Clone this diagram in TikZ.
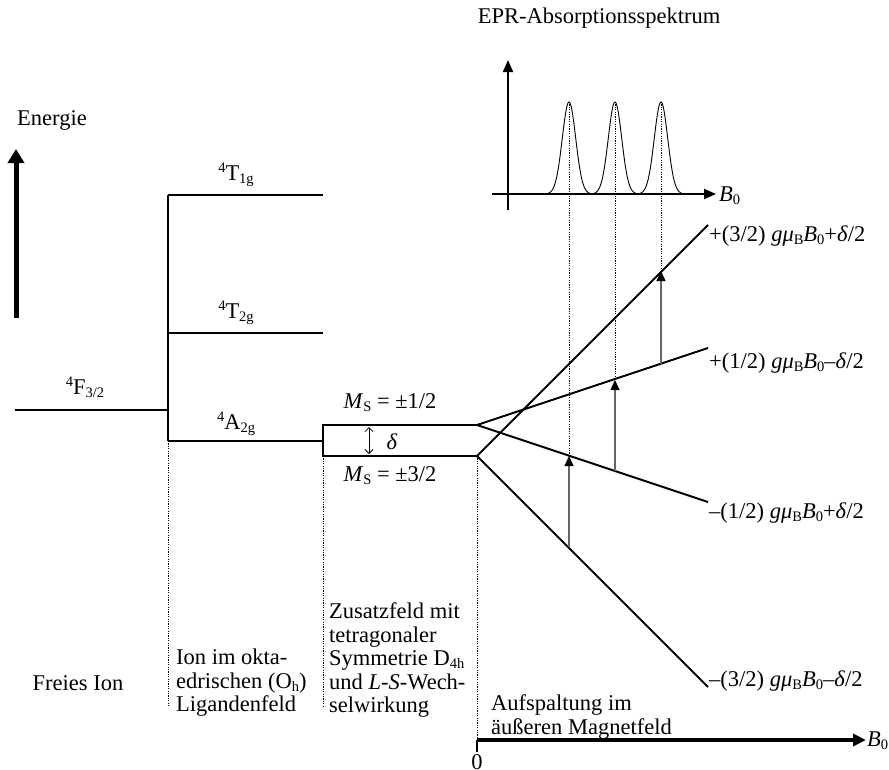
\documentclass[tikz,border=0pt]{standalone}
\usepackage{fontspec}
\setmainfont{Liberation Serif}
\usetikzlibrary{arrows.meta}
\newcommand\lsub[1]{\raisebox{-0.3ex}{\fontsize{14.5}{14.5}\selectfont #1}}
\newcommand\lsup[1]{\raisebox{0.8ex}{\fontsize{14.5}{14.5}\selectfont #1}}
\tikzset{
  level/.style={line width=2pt},
  vconn/.style={line width=1.2pt},
  fan/.style={line width=2pt},
  dotline/.style={line width=0.9pt, dash pattern=on 1.2pt off 1.2pt},
  trans/.style={line width=1.3pt, draw=black!60, -{Triangle[length=10pt,width=9pt,color=black]}},
  axis/.style={line width=2pt, -{Triangle[length=12pt,width=10pt]}},
  bigarrow/.style={line width=5pt, -{Triangle[length=14pt,width=16pt]}},
  peak/.style={line width=0.9pt},
  lbl/.style={inner sep=0pt},
  block/.style={inner sep=0pt, align=left}
}
\begin{document}
\begin{tikzpicture}[x=1pt,y=-1pt,font=\fontsize{22.5}{23.5}\selectfont]
\useasboundingbox (0,0) rectangle (889,769);

% Energy axis
\node[lbl] (energie) at (52,120) {Energie};
\coordinate (eA) at (16,318);
\coordinate (eB) at (16,149);
\draw[bigarrow] (eA) -- (eB);

% free ion level
\coordinate (F1) at (15,410);
\coordinate (F2) at (168,410);
\draw[level] (F1) -- (F2);
\node[lbl] (Flab) at (85,387) {\lsup{4}F\lsub{3/2}};

% octahedral levels
\coordinate (T1a) at (168,195); \coordinate (T1b) at (323,195);
\coordinate (T2a) at (168,333); \coordinate (T2b) at (323,333);
\coordinate (Aa) at (168,441);  \coordinate (Ab) at (323,441);
\draw[vconn] (T1a) -- (Aa);
\draw[level] (T1a) -- (T1b);
\draw[level] (T2a) -- (T2b);
\draw[level] (Aa) -- (Ab);
\node[lbl] (T1lab) at (236,175) {\lsup{4}T\lsub{1g}};
\node[lbl] (T2lab) at (236,313) {\lsup{4}T\lsub{2g}};
\node[lbl] (Alab) at (236,424) {\lsup{4}A\lsub{2g}};

% tetragonal box
\coordinate (Bul) at (323,425); \coordinate (Bur) at (477,425);
\coordinate (Bll) at (323,456); \coordinate (Blr) at (477,456);
\draw[level] (Bur) -- (Bul) -- (Bll) -- (Blr);
\coordinate (dA) at (369,427); \coordinate (dB) at (369,454);
\draw[line width=0.8pt, {Straight Barb[length=4pt,width=8pt]}-{Straight Barb[length=4pt,width=8pt]}] (dA) -- (dB);
\node[lbl] (delta) at (392,442) {\textit{δ}};
\node[lbl] (ms12) at (390,403) {\textit{M}\lsub{S} = ±1/2};
\node[lbl] (ms32) at (390,476) {\textit{M}\lsub{S} = ±3/2};

% Zeeman fan
\coordinate (P32) at (708,225);
\coordinate (P12) at (708,348);
\coordinate (M12) at (708,502);
\coordinate (M32) at (708,687);
\draw[fan] (Blr) -- (P32);
\draw[fan] (Blr) -- (M32);
\draw[fan] (Bur) -- (P12);
\draw[fan] (Bur) -- (M12);
\node[lbl, anchor=west] (lP32) at (709,236) {+(3/2) \textit{gμ}\lsub{B}\textit{B}\lsub{0}+\textit{δ}/2};
\node[lbl, anchor=west] (lP12) at (709,363) {+(1/2) \textit{gμ}\lsub{B}\textit{B}\lsub{0}–\textit{δ}/2};
\node[lbl, anchor=west] (lM12) at (709,513) {–(1/2) \textit{gμ}\lsub{B}\textit{B}\lsub{0}+\textit{δ}/2};
\node[lbl, anchor=west] (lM32) at (709,681) {–(3/2) \textit{gμ}\lsub{B}\textit{B}\lsub{0}–\textit{δ}/2};

% transitions
\coordinate (t1a) at (569,547); \coordinate (t1b) at (569,456);
\coordinate (t2a) at (615,471); \coordinate (t2b) at (615,380);
\coordinate (t3a) at (661,364); \coordinate (t3b) at (661,271);
\draw[trans] (t1a) -- (t1b);
\draw[trans] (t2a) -- (t2b);
\draw[trans] (t3a) -- (t3b);

% spectrum
\node[lbl] (title) at (599,18) {EPR-Absorptionsspektrum};
\coordinate (sy0) at (508,210); \coordinate (sy1) at (508,60);
\coordinate (sx0) at (492,194); \coordinate (sx1) at (716,194);
\draw[axis] (sy0) -- (sy1);
\draw[axis] (sx0) -- (sx1);
\node[lbl, anchor=west] (sB) at (719,196) {\textit{B}\lsub{0}};
\foreach \c in {569,615,661}{
  \draw[peak, domain=-21:21, samples=80] plot ({\c+\x},{194-92*exp(-(\x*\x)/90)});
}
\coordinate (p1) at (569,102); \coordinate (p2) at (615,102); \coordinate (p3) at (661,102);
\draw[dotline] (p1) -- (t1b);
\draw[dotline] (p2) -- (t2b);
\draw[dotline] (p3) -- (t3b);

% region separators
\coordinate (s1) at (168,706); \coordinate (s2) at (323,706); \coordinate (s3) at (477,740);
\draw[dotline] (Aa) -- (s1);
\draw[dotline] (Bll) -- (s2);
\draw[dotline] (Blr) -- (s3);

% magnetic field axis
\coordinate (bx1) at (866,740); \coordinate (tick) at (477,752);
\draw[line width=4pt, -{Triangle[length=13pt,width=12pt]}] (s3) -- (bx1);
\draw[line width=2pt] (s3) -- (tick);
\node[lbl] (zero) at (477,762) {0};
\node[lbl, anchor=west] (bB) at (867,741) {\textit{B}\lsub{0}};

% bottom texts
\node[lbl] (freies) at (78,683) {Freies Ion};
\node[block, anchor=west] (ion) at (176,683) {Ion im okta-\\edrischen (O\lsub{h})\\Ligandenfeld};
\node[block, anchor=west] (zus) at (329,660) {Zusatzfeld mit\\tetragonaler\\Symmetrie D\lsub{4h}\\und \textit{L}-\textit{S}-Wech-\\selwirkung};
\node[block, anchor=west] (auf) at (491,717) {Aufspaltung im\\äußeren Magnetfeld};
\end{tikzpicture}
\end{document}
